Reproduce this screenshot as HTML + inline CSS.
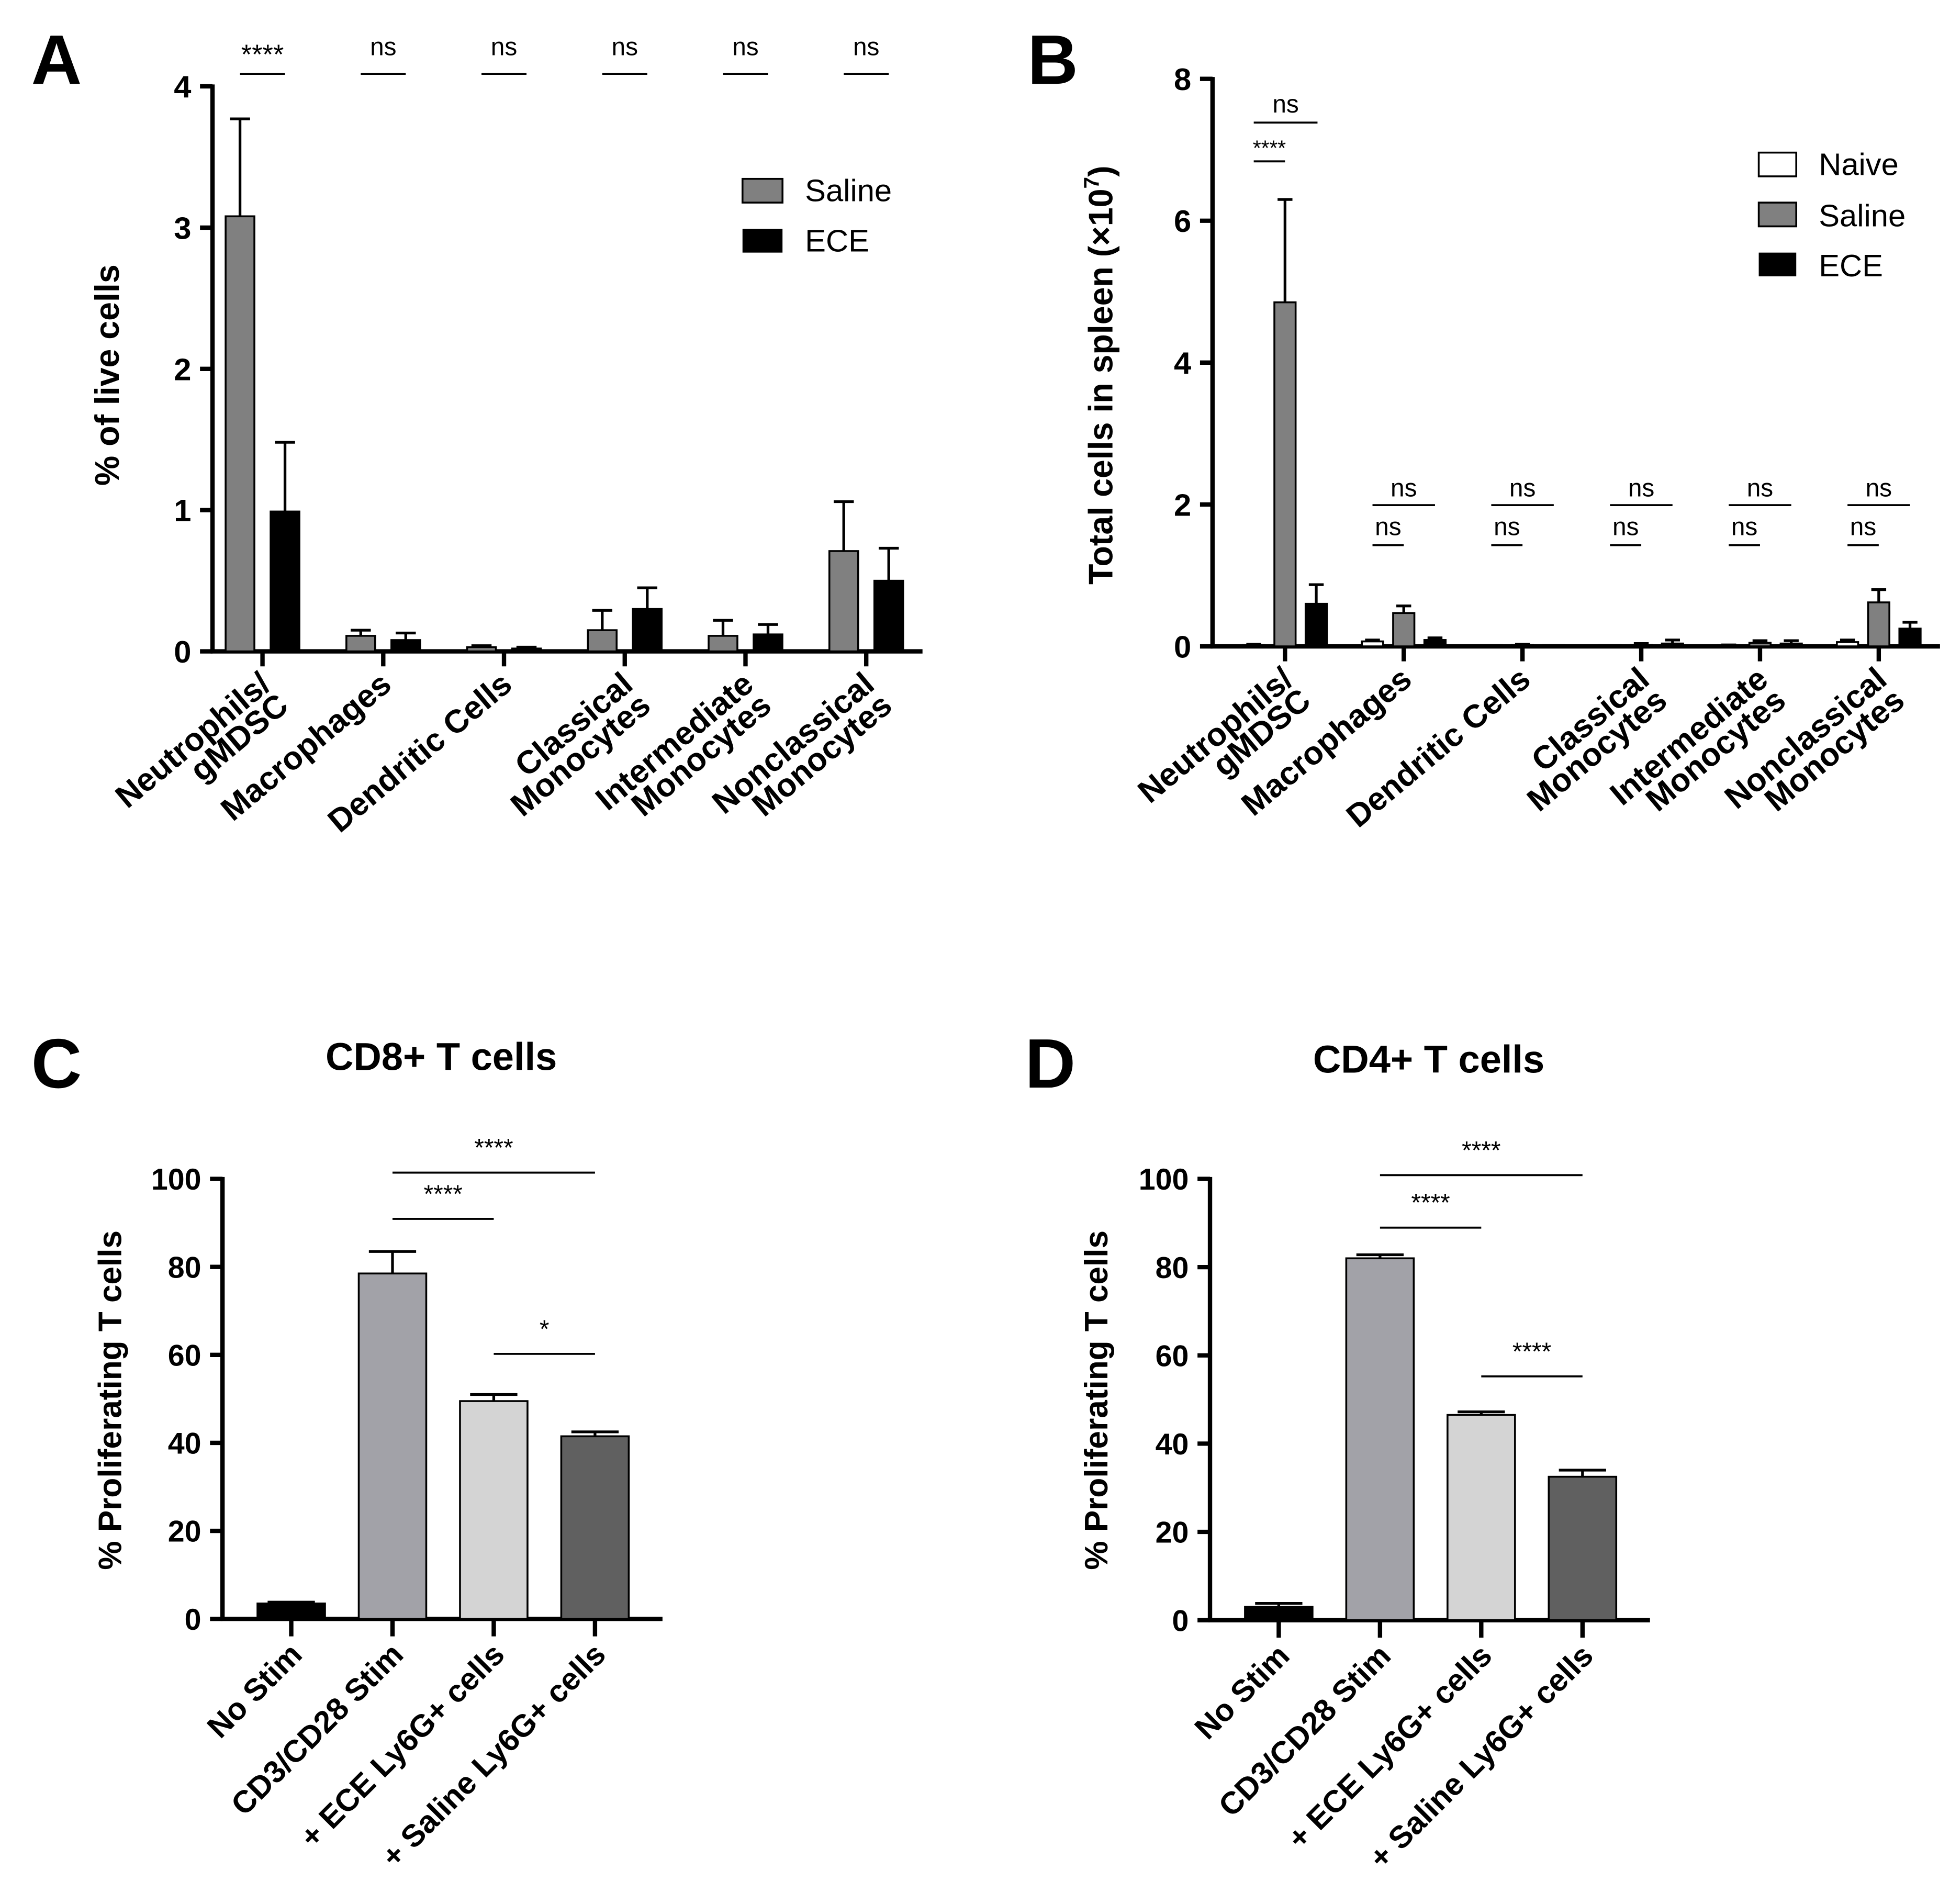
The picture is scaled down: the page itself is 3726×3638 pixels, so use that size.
<!DOCTYPE html>
<html><head><meta charset="utf-8">
<style>
html,body{margin:0;padding:0;background:#fff;}
svg{display:block;font-family:"Liberation Sans",Arial,sans-serif;}
</style></head>
<body>
<svg id="fig" width="3726" height="3638" viewBox="0 0 1560 1523" xmlns="http://www.w3.org/2000/svg">
<rect x="0" y="0" width="1560" height="1523" fill="#fff"/>
</svg>
<script>
// ---------- Panel A data ----------
const catsAB = [["Neutrophils/","gMDSC"],["Macrophages"],["Dendritic Cells"],["Classical","Monocytes"],["Intermediate","Monocytes"],["Nonclassical","Monocytes"]];
const aTicks = [0,1,2,3,4];
const aSaline = [3.08,0.11,0.03,0.15,0.11,0.71];
const aSalineErr = [3.77,0.15,0.04,0.29,0.22,1.06];
const aECE = [0.99,0.08,0.02,0.30,0.12,0.50];
const aECEErr = [1.48,0.13,0.03,0.45,0.19,0.73];
const aSig = ["****","ns","ns","ns","ns","ns"];
// ---------- Panel B data ----------
const bTicks = [0,2,4,6,8];
const bNaive = [0.02,0.07,0.0,0.0,0.01,0.06];
const bNaiveErr = [0.03,0.09,0.0,0.01,0.02,0.09];
const bSaline = [4.85,0.47,0.02,0.02,0.05,0.62];
const bSalineErr = [6.3,0.57,0.03,0.04,0.08,0.80];
const bECE = [0.60,0.09,0.01,0.04,0.04,0.25];
const bECEErr = [0.87,0.12,0.01,0.09,0.08,0.34];
const bSigUpper = ["ns","ns","ns","ns","ns","ns"];
const bSigLower = ["****","ns","ns","ns","ns","ns"];
// ---------- Panels C/D data ----------
const catsCD = ["No Stim","CD3/CD28 Stim","+ ECE Ly6G+ cells","+ Saline Ly6G+ cells"];
const cdTicks = [0,20,40,60,80,100];
const cVals = [3.5,78.5,49.5,41.5];
const cErr = [3.8,83.5,51,42.5];
const dVals = [3.0,82.0,46.5,32.5];
const dErr = [3.8,82.8,47.2,34.0];
const cSig = [[1,3,"****"],[1,2,"****"],[2,3,"*"]];
const dSig = [[1,3,"****"],[1,2,"****"],[2,3,"****"]];

const NS="http://www.w3.org/2000/svg";
const svg=document.getElementById('fig');
function mk(tag,attrs,parent,text){const e=document.createElementNS(NS,tag);for(const k in attrs)e.setAttribute(k,attrs[k]);if(text!==undefined)e.textContent=text;(parent||svg).appendChild(e);return e;}
function grp(name){const g=mk('g',{});return g;}

function axes(g,x0,x1,yTop,y0,ticks,yfn,tickFs){
  const ya=mk('line',{x1:x0,y1:yTop-1.5,x2:x0,y2:y0+1.5,stroke:'#000','stroke-width':3.5},g);
  
  const xa=mk('line',{x1:x0-1.5,y1:y0,x2:x1,y2:y0,stroke:'#000','stroke-width':3.5},g);
  
  ticks.forEach(t=>{const y=yfn(t);
    mk('line',{x1:x0-10,y1:y,x2:x0,y2:y,stroke:'#000','stroke-width':3.5},g);
    const tx=mk('text',{x:x0-17,y:y+tickFs*0.36,'font-size':tickFs,'font-weight':'bold','text-anchor':'end'},g,String(t));
    
    });
}
function bar(g,cx,w,v,e,fill,yfn,y0,name){
  const y=yfn(v);
  const r=mk('rect',{x:cx-w/2,y:Math.min(y,y0-1),width:w,height:Math.max(y0-y,1),fill:fill,stroke:'#000','stroke-width':1.5},g);
  
  
  const ye=yfn(e);
  if(e>v){mk('line',{x1:cx,y1:y,x2:cx,y2:ye,stroke:'#000','stroke-width':2.2},g);
  mk('line',{x1:cx-w*0.35,y1:ye,x2:cx+w*0.35,y2:ye,stroke:'#000','stroke-width':2.2},g);}
}
function catLabel(g,x,y,lines,fs,ang){
  const t=mk('text',{transform:`translate(${x},${y}) rotate(${ang})`,'font-size':fs,'font-weight':'bold','text-anchor':'end'},g);
  
  
  lines.forEach((l,i)=>{mk('tspan',{x:0,dy:i==0?0:fs*0.85},t,l);});
}
function sig(g,xa,xb,y,label,fs,ly){
  mk('line',{x1:xa,y1:y,x2:xb,y2:y,stroke:'#000','stroke-width':1.6},g);
  const t=mk('text',{x:(xa+xb)/2,y:ly,'font-size':fs,'text-anchor':'middle'},g,label);
  
  
}
function letter(l,x,y){const t=mk('text',{x:x,y:y,'font-size':56,'font-weight':'bold'},svg,l);
  
  }

// ---------- Panel A ----------
(function(){
  const g=grp('panel-a');
  const x0=170,x1=738,yTop=69,y0=521;
  const yfn=v=>y0-(v/4)*(y0-yTop);
  const cx=i=>210+i*96.6;
  axes(g,x0,x1,yTop,y0,aTicks,yfn,25);
  catsAB.forEach((c,i)=>{
    mk('line',{x1:cx(i),y1:y0,x2:cx(i),y2:y0+12,stroke:'#000','stroke-width':3.5},g);
    bar(g,cx(i)-18,23,aSaline[i],aSalineErr[i],'#808080',yfn,y0,'bar-saline');
    bar(g,cx(i)+18,23,aECE[i],aECEErr[i],'#000',yfn,y0,'bar-ece');
    sig(g,cx(i)-18,cx(i)+18,59,aSig[i],aSig[i]=='****'?22:20,aSig[i]=='****'?51:44);
    catLabel(g,cx(i)+8,550,c,26,-40);
  });
  const yl=mk('text',{transform:'translate(95,300) rotate(-90)','font-size':27,'font-weight':'bold','text-anchor':'middle'},g,'% of live cells');
  
  
  const lg=grp('legend-a');
  mk('rect',{x:594,y:143,width:32,height:19,fill:'#808080',stroke:'#000','stroke-width':1.5},lg);
  mk('text',{x:644,y:161,'font-size':25},lg,'Saline');
  mk('rect',{x:594,y:183,width:32,height:19,fill:'#000'},lg);
  mk('text',{x:644,y:201,'font-size':25},lg,'ECE');
  letter('A',25,67);
})();

// ---------- Panel B ----------
(function(){
  const g=grp('panel-b');
  const x0=970,x1=1552,yTop=63,y0=517;
  const yfn=v=>y0-(v/8)*(y0-yTop);
  const cx=i=>1028+i*95;
  axes(g,x0,x1,yTop,y0,bTicks,yfn,25);
  catsAB.forEach((c,i)=>{
    mk('line',{x1:cx(i),y1:y0,x2:cx(i),y2:y0+12,stroke:'#000','stroke-width':3.5},g);
    bar(g,cx(i)-25,17,bNaive[i],bNaiveErr[i],'#fff',yfn,y0,'bar-naive');
    bar(g,cx(i),17,bSaline[i],bSalineErr[i],'#808080',yfn,y0,'bar-saline');
    bar(g,cx(i)+25,17,bECE[i],bECEErr[i],'#000',yfn,y0,'bar-ece');
    if(i==0){
      sig(g,cx(i)-25,cx(i)+26,98,bSigUpper[i],20,90);
      sig(g,cx(i)-25,cx(i),129,bSigLower[i],17,124);
    } else {
      sig(g,cx(i)-25,cx(i)+25,404,bSigUpper[i],20,397);
      sig(g,cx(i)-25,cx(i),436,bSigLower[i],20,428);
    }
    catLabel(g,cx(i)+8,546,c,26,-40);
  });
  const yl=mk('text',{transform:'translate(890,300) rotate(-90)','font-size':27,'font-weight':'bold','text-anchor':'middle'},g);
  
  
  mk('tspan',{},yl,'Total cells in spleen (×10');
  mk('tspan',{'font-size':17,dy:-11},yl,'7');
  mk('tspan',{dy:11},yl,')');
  const lg=grp('legend-b');
  mk('rect',{x:1407,y:122,width:30,height:19,fill:'#fff',stroke:'#000','stroke-width':1.5},lg);
  mk('text',{x:1455,y:140,'font-size':25},lg,'Naive');
  mk('rect',{x:1407,y:162,width:30,height:19,fill:'#808080',stroke:'#000','stroke-width':1.5},lg);
  mk('text',{x:1455,y:181,'font-size':25},lg,'Saline');
  mk('rect',{x:1407,y:202,width:30,height:19,fill:'#000'},lg);
  mk('text',{x:1455,y:221,'font-size':25},lg,'ECE');
  letter('B',822,67);
})();

// ---------- Panels C & D ----------
const cdFills=['#000','#a2a2a8','#d4d4d4','#606060'];
function cdPanel(name,x0,x1,y0,cats0,vals,errs,sigs,title,tcx,tcy,L,lx,sigYs,lblX){
  const g=grp(name);
  const yTop=943;
  const yfn=v=>y0-(v/100)*(y0-yTop);
  const cx=i=>cats0+i*81;
  axes(g,x0,x1,yTop,y0,cdTicks,yfn,24);
  catsCD.forEach((c,i)=>{
    mk('line',{x1:cx(i),y1:y0,x2:cx(i),y2:y0+14,stroke:'#000','stroke-width':3.5},g);
    bar(g,cx(i),54,vals[i],errs[i],cdFills[i],yfn,y0,'bar-'+i);
    const t=mk('text',{transform:`translate(${cx(i)+10},${y0+30}) rotate(-45)`,'font-size':25,'font-weight':'bold','text-anchor':'end'},g,c);
    
    
  });
  sigs.forEach((s,k)=>sig(g,cx(s[0]),cx(s[1]),sigYs[k],s[2],20,sigYs[k]-13));
  const tt=mk('text',{x:tcx,y:tcy,'font-size':31,'font-weight':'bold','text-anchor':'middle'},g,title);
  
  
  const yl=mk('text',{transform:`translate(${lblX},1120) rotate(-90)`,'font-size':26,'font-weight':'bold','text-anchor':'middle'},g,'% Proliferating  T cells');
  
  
  letter(L,lx,870);
}
cdPanel('panel-c',178,530,1295,233,cVals,cErr,cSig,'CD8+ T cells',353,856,'C',25,[938,975,1083],97);
cdPanel('panel-d',968,1320,1296,1023,dVals,dErr,dSig,'CD4+ T cells',1143,858,'D',820,[940,982,1101],886);
</script>
</body></html>
